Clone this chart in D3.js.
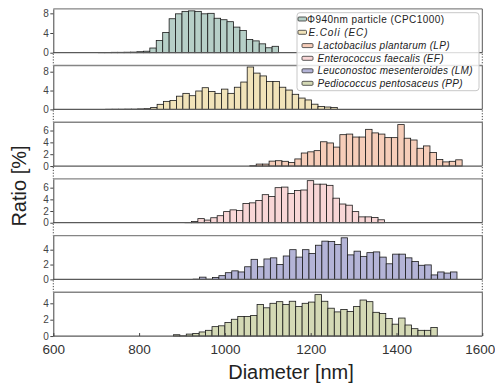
<!DOCTYPE html>
<html>
<head>
<meta charset="utf-8">
<script src="https://cdn.jsdelivr.net/npm/d3@7"></script>
<style>
  body { margin: 0; background: #fff; }
  svg { font-family: "Liberation Sans", Arial, sans-serif; }
</style>
</head>
<body>
<script>
// diameter axis
const diameterTicks = [600, 800, 1000, 1200, 1400, 1600];
const binWidth = 15; // nm

// legend labels, top panel first
const seriesNames = [
  "\u03A6940nm particle (CPC1000)",
  "E.Coli (EC)",
  "Lactobacilus plantarum (LP)",
  "Enterococcus faecalis (EF)",
  "Leuconostoc mesenteroides (LM)",
  "Pediococcus pentosaceus (PP)"
];
const seriesColors = ["#b6cfc7", "#f1e3b9", "#f6cdb9", "#f8d6d6", "#b4b4d7", "#d4d9b5"];

// first bin edge of each histogram [nm]
const binStarts = [705, 722, 1058, 907, 926, 880];

// ratio [%] per bin
const ratioCPC = [0.03, 0.06, 0.08, 0.08, 0.1, 0.12, 0.2,
  0.3, 0.95, 2.5, 4.1, 6.9, 7.9, 8.4, 8.5, 8.4, 7.9, 8.0, 7.0, 6.7, 6.3, 5.2, 4.5, 2.7, 2.4, 1.8, 1.0, 1.3];
const ratioEC = [0.02, 0.03, 0.03, 0.05, 0.05, 0.1, 0.15,
  0.4, 1.07, 1.7, 1.9, 2.8, 3.4, 2.9, 3.9, 4.6, 3.8, 3.4, 4.3, 3.4, 4.7, 5.8,
  9.0, 7.7, 7.1, 5.9, 5.9, 4.7, 4.1, 3.2, 2.4, 2.0, 1.1, 0.6, 0.5, 0.4];
const ratioLP = [0.05, 0.33, 0.33, 0.83, 0.9, 0.8, 0.6, 1.2, 2.2, 2.4, 2.6, 4.1, 3.9, 3.2, 5.3, 5.4, 4.9,
  4.9, 6.2, 5.6, 5.4, 4.8, 4.8, 7.0, 4.7, 4.4, 3.0, 3.4, 2.3, 1.1, 0.7, 0.8, 1.05];
const ratioEF = [0.05, 0.2, 0.7, 0.45, 0.85, 1.2, 1.9, 2.2, 2.1, 3.3, 3.4, 3.8, 4.8, 4.5, 6.0, 6.1, 5.0,
  5.5, 5.6, 7.2, 6.6, 6.6, 6.4, 4.2, 3.2, 3.0, 1.9, 1.0, 1.0, 0.9, 0.5];
const ratioLM = [0.03, 0.3, 0.03, 0.25, 0.5, 0.9, 1.15, 1.0, 1.7, 2.7, 1.7, 2.75, 2.9, 2.0, 3.15, 4.0, 3.0,
  4.0, 3.5, 4.6, 5.15, 5.1, 4.7, 5.6, 3.3, 3.8, 3.1, 3.6, 3.7, 3.0, 2.1, 3.4, 3.4, 2.9, 2.4, 1.9, 1.95,
  0.6, 1.0, 0.85, 1.0];
const ratioPP = [0.16, 0.03, 0.24, 0.32, 0.5, 0.7, 1.15, 1.25, 1.65, 2.05, 2.4, 2.4, 2.5, 3.85, 3.45, 4.0,
  4.2, 3.85, 4.25, 3.6, 4.0, 4.15, 5.06, 4.25, 3.4, 2.95, 3.25, 3.0, 3.6, 4.4, 4.2, 2.9, 2.75, 2.15,
  1.45, 2.2, 1.35, 0.9, 0.7, 0.7, 1.05];
const allRatios = [ratioCPC, ratioEC, ratioLP, ratioEF, ratioLM, ratioPP];

// y range of each panel and its ticks
const ratioMax = [8.9, 9.3, 7.4, 7.5, 5.9, 5.35];
const ratioTicks = [[0, 4, 8], [0, 4, 8], [0, 2, 4, 6], [0, 2, 4, 6], [0, 2, 4], [0, 2, 4]];

const W = 495, H = 385;
const firstZero = 52.7, panelStep = 56.67, panelH = 43.8;

const svg = d3.select("body").append("svg").attr("width", W).attr("height", H);

const x = d3.scaleLinear().domain([600, 1600]).range([53.3, 482.3]);

allRatios.forEach((vals, i) => {
  const zero = firstZero + i * panelStep;
  const top = zero - panelH;
  const y = d3.scaleLinear().domain([0, ratioMax[i]]).range([zero, top]);
  const g = svg.append("g");

  const bins = vals.map((v, k) => ({ x0: binStarts[i] + k * binWidth, x1: binStarts[i] + (k + 1) * binWidth, v }));

  g.selectAll("rect.bar").data(bins).enter().append("rect")
    .attr("class", "bar")
    .attr("x", d => x(d.x0))
    .attr("width", d => x(d.x1) - x(d.x0))
    .attr("y", d => y(d.v))
    .attr("height", d => zero - y(d.v))
    .attr("fill", seriesColors[i])
    .attr("stroke", "#1a1a1a")
    .attr("stroke-width", 0.8);

  // frame: top line, right edge, baseline
  g.append("line").attr("x1", x(600)).attr("x2", x(1600)).attr("y1", top).attr("y2", top)
    .attr("stroke", "#858585").attr("stroke-width", 1.4);
  g.append("line").attr("x1", x(1600)).attr("x2", x(1600)).attr("y1", top).attr("y2", zero)
    .attr("stroke", "#555").attr("stroke-width", 1);
  g.append("line").attr("x1", x(600)).attr("x2", x(1600)).attr("y1", zero).attr("y2", zero)
    .attr("stroke", "#5a5a5a").attr("stroke-width", 1.3);

  const ax = g.append("g").attr("transform", `translate(${x(600)},0)`)
    .call(d3.axisLeft(y).tickValues(ratioTicks[i]).tickFormat(d3.format("d"))
      .tickSize(3).tickPadding(1.5).tickSizeOuter(0));
  ax.select(".domain").attr("stroke", "#444");
  ax.selectAll(".tick line").attr("stroke", "#444");
  ax.selectAll(".tick text").attr("font-size", 10).attr("fill", "#444")
    .attr("font-family", "Liberation Sans, Arial, sans-serif");

  // broken-axis dotted joins
  if (i < allRatios.length - 1) {
    const nextTop = firstZero + (i + 1) * panelStep - panelH;
    [600, 1600].forEach(v => {
      g.append("line").attr("x1", x(v)).attr("x2", x(v)).attr("y1", zero + 1).attr("y2", nextTop)
        .attr("stroke", "#444").attr("stroke-width", 1).attr("stroke-dasharray", "1.2,1.6");
    });
  }

  if (i === allRatios.length - 1) {
    const bx = svg.append("g").attr("transform", `translate(0,${zero})`)
      .call(d3.axisBottom(x).tickValues(diameterTicks).tickFormat(d3.format("d"))
        .tickSize(-3).tickPadding(8).tickSizeOuter(0));
    bx.select(".domain").remove();
    bx.selectAll(".tick line").attr("stroke", "#444");
    bx.selectAll(".tick text").attr("font-size", 13.5).attr("fill", "#333")
      .attr("font-family", "Liberation Sans, Arial, sans-serif")
      .attr("dx", d => d === 1600 ? -2.5 : 0);
  }
});

// axis titles
svg.append("text").attr("x", 291).attr("y", 379).attr("text-anchor", "middle")
  .attr("font-size", 20).attr("fill", "#222").text("Diameter [nm]");
svg.append("text").attr("transform", "translate(26,186) rotate(-90)").attr("text-anchor", "middle")
  .attr("font-size", 20).attr("fill", "#222").text("Ratio [%]");

// legend
const lg = svg.append("g");
lg.append("rect").attr("x", 297).attr("y", 12.7).attr("width", 182).attr("height", 78)
  .attr("rx", 3).attr("fill", "#fff").attr("fill-opacity", 0.8)
  .attr("stroke", "#c8c8c8").attr("stroke-width", 1);
const rowY = [19, 32.3, 45.6, 58.3, 70.8, 83.3];
const textX = [307, 308.5, 317.5, 317.5, 317.5, 317.5];
const textW = [137, 59, 132, 126, 155, 145];
seriesNames.forEach((name, i) => {
  const sx = i < 2 ? 298 : 302;
  const sw = i < 2 ? 8.5 : 11;
  lg.append("rect").attr("x", sx).attr("y", rowY[i] - 2).attr("width", sw).attr("height", 4)
    .attr("rx", 1).attr("fill", seriesColors[i]).attr("stroke", "#333").attr("stroke-width", 0.8);
  lg.append("text").attr("x", textX[i]).attr("y", rowY[i] + 3.6)
    .attr("font-size", 10).attr("fill", "#222")
    .attr("font-style", i === 0 ? "normal" : "italic")
    .attr("textLength", textW[i]).attr("lengthAdjust", "spacing")
    .text(name);
});
</script>
</body>
</html>
